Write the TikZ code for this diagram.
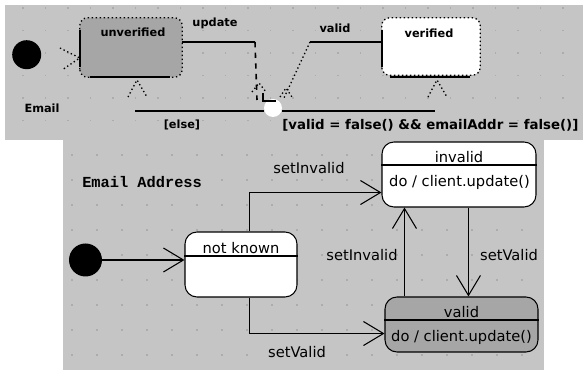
\documentclass[tikz,border=0pt]{standalone}
\usepackage{fontspec}
\setmainfont{DejaVu Sans}
\newfontfamily\monof{Liberation Mono}
\usetikzlibrary{arrows.meta,calc}
\definecolor{bg}{RGB}{197,197,197}
\definecolor{sgray}{RGB}{166,166,166}
\definecolor{griddot}{RGB}{172,172,172}
\begin{document}
\begin{tikzpicture}[x=0.75pt,y=-0.75pt,
  state/.style={draw=black, line width=0.8pt, rounded corners=9pt, inner sep=0pt},
  lbl/.style={font=\fontsize{11}{12}\selectfont, inner sep=0pt},
  tiny/.style={font=\fontsize{8.5}{9}\selectfont\bfseries, inner sep=0pt},
  guard/.style={font=\fontsize{10}{11}\selectfont\bfseries, inner sep=0pt},
  conn/.style={line width=0.8pt},
  arr/.style={conn, -{Straight Barb[length=15pt,width=18pt,line width=0.8pt]}},
  dotl/.style={line width=1pt, dotted},
  thick2/.style={line width=1.4pt},
  gdot/.style={fill=griddot}
]
\useasboundingbox (0,0) rectangle (583,370);
% panels
\fill[bg] (5,5) rectangle (583,140);
\fill[bg] (63,140) rectangle (544,370);
% grid dots
\foreach \i in {0,...,24} \foreach \j in {0,...,5}
  \fill[gdot] ({23+22.5*\i-0.8},{8+22.5*\j-0.8}) rectangle ++(1.6,1.6);
\foreach \i in {0,...,18} \foreach \j in {0,...,8}
  \fill[gdot] ({72+25*\i-0.8},{155+25*\j-0.8}) rectangle ++(1.6,1.6);

% ---------- top diagram ----------
\begin{scope}
\clip (5,5) rectangle (583,140);
\node[circle, fill=black, minimum size=21.75pt, inner sep=0pt] (t0) at (26.7,54.7) {};
\node[fill=sgray, rounded corners=6pt, minimum width=76.5pt, minimum height=44.25pt, inner sep=0pt] (tu) at (131,47.5) {};
\node[fill=white, rounded corners=6pt, minimum width=73.5pt, minimum height=42.75pt, inner sep=0pt] (tv) at (431,46.5) {};
\draw[dotl, rounded corners=6pt] (tu.south west) rectangle (tu.north east);
\draw[dotl, rounded corners=6pt] (tv.south west) rectangle (tv.north east);
\draw[thick2] ($(tu.north west)+(0,12)$) -- ($(tu.south west)+(0,-10)$);
\draw[thick2] ($(tu.south west)+(10,0)$) -- ($(tu.south east)+(-12,0)$);
\draw[thick2] ($(tv.north west)+(0,12)$) -- ($(tv.south west)+(0,-8)$);
\draw[thick2] ($(tv.south west)+(8,2)$) -- ($(tv.south east)+(-10,2)$);
\node[tiny] (tut) at (133,32) {unverified};
\node[tiny] (tvt) at (429,33) {verified};
% initial arrow chevron
\draw[dotl] (60,48) -- (tu.west |- 0,58) -- (62,70);
% junction
\node[circle, fill=white, minimum size=13.5pt, inner sep=0pt] (tj) at (273,108) {};
\coordinate (ta) at (255,42);
\coordinate (tb) at (310,42);
\draw[line width=1.2pt] (tu.east |- ta) -- (ta);
\draw[line width=1.2pt, dash pattern=on 4pt off 4pt] (ta) -- (257,100);
\draw[line width=1.2pt] (tb) -- (tv.west |- tb);
\draw[dotl] (tb) -- (283,100);
\draw[line width=1.2pt] (135,111) -- (tj.west |- 0,111);
\draw[line width=1.2pt] (tj.east |- 0,111) -- (435,111);
\draw[line width=1pt] (263,93) -- (263,101) -- (276,101);
% chevrons
\draw[dotl] (128,97) -- (137,80) -- (147,97);
\draw[dotl] (428,97) -- (437,80) -- (447,97);
\draw[dotl] (252,92) -- (259,83) -- (266,92);
\draw[dotl] (280,97) -- (286,88) -- (292,97);
% labels
\node[tiny] (tl1) at (215,23) {update};
\node[tiny] (tl2) at (335,28) {valid};
\node[tiny] (tl3) at (42,108) {Email};
\node[tiny] (tl4) at (182,125) {[else]};
\node[guard, anchor=west] (tl5) at (282,125) {[valid = false() \&\& emailAddr = false()]};
\end{scope}

% ---------- bottom diagram ----------
\node[font=\monof\bfseries\fontsize{11.5}{12}\selectfont, anchor=west, inner sep=0pt] (title) at (82,182) {Email Address};
\node[circle, fill=black, minimum size=24.75pt, inner sep=0pt] (d2) at (85.5,260) {};
\node[state, fill=white, minimum width=84pt, minimum height=48.75pt] (nk) at (241,264.5) {};
\node[state, fill=white, minimum width=115.5pt, minimum height=48.75pt] (inv) at (459,174.5) {};
\node[state, fill=sgray, minimum width=114.75pt, minimum height=41.25pt] (val) at (461.5,324.5) {};
\draw[conn] (nk.west |- 0,256) -- (nk.east |- 0,256);
\draw[conn] (inv.west |- 0,165) -- (inv.east |- 0,165);
\draw[conn] (val.west |- 0,320) -- (val.east |- 0,320);
\node[lbl] (nkt) at (241,248) {not known};
\node[lbl] (invt) at (459,157) {invalid};
\node[lbl] (invd) at (459.5,182) {do / client.update()};
\node[lbl] (valt) at (461.5,312) {valid};
\node[lbl] (vald) at (461.5,337) {do / client.update()};
% connectors
\draw[arr] (d2.east) -- (nk.west |- d2.east);
\draw[arr] ($(nk.north west)+(65,0)$) |- ($(inv.south west)+(0,-15)$);
\draw[arr] ($(nk.south west)+(65,0)$) |- ($(val.south west)+(0,-19)$);
\draw[arr] ($(val.north west)+(20,0)$) -- ($(inv.south west)+(23,0)$);
\draw[arr] ($(inv.south west)+(87,0)$) -- ($(val.north west)+(84,0)$);
% labels
\node[lbl] (l1) at (309,168) {setInvalid};
\node[lbl] (l2) at (297,352) {setValid};
\node[lbl] (l3) at (362,255) {setInvalid};
\node[lbl] (l4) at (509,255) {setValid};
\end{tikzpicture}
\end{document}
